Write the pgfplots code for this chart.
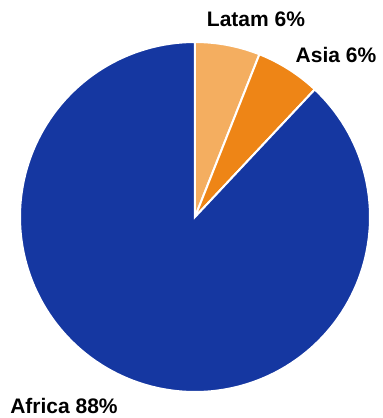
\documentclass[border=0pt]{standalone}
\usepackage{pgfplots}
\pgfplotsset{compat=1.18}
\usepgfplotslibrary{polar}
\usepackage{fontspec}
\setmainfont{Liberation Sans}
\definecolor{latam}{RGB}{244,174,96}
\definecolor{asia}{RGB}{238,133,22}
\definecolor{africa}{RGB}{21,55,161}
% shares in percent
\def\shareLatam{6}
\def\shareAsia{6}
\def\shareAfrica{88}
\pgfmathsetmacro{\aA}{90}
\pgfmathsetmacro{\aB}{\aA-3.6*\shareLatam}
\pgfmathsetmacro{\aC}{\aB-3.6*\shareAsia}
\pgfmathsetmacro{\aD}{\aC-3.6*\shareAfrica}
\begin{document}
\begin{tikzpicture}
\path[use as bounding box] (0,0) rectangle (383pt,418pt);
\begin{polaraxis}[
  at={(195pt,201pt)}, anchor=origin,
  scale only axis, width=350pt, height=350pt,
  xmin=0, xmax=360, ymin=0, ymax=175,
  hide axis, clip=false,
]
\addplot[draw=white, line width=2pt, fill=latam, domain=\aB:\aA, samples=20] {175} -- (axis cs:0,0) -- cycle;
\addplot[draw=white, line width=2pt, fill=asia, domain=\aC:\aB, samples=20] {175} -- (axis cs:0,0) -- cycle;
\addplot[draw=white, line width=2pt, fill=africa, domain=\aD:\aC, samples=160] {175} -- (axis cs:0,0) -- cycle;
\end{polaraxis}
\node[anchor=base, inner sep=0pt, font=\fontsize{21}{24}\selectfont\bfseries] at (256pt,391pt) {Latam \shareLatam\%};
\node[anchor=base, inner sep=0pt, font=\fontsize{21}{24}\selectfont\bfseries] at (336pt,355pt) {Asia \shareAsia\%};
\node[anchor=base, inner sep=0pt, font=\fontsize{21}{24}\selectfont\bfseries] at (64pt,5pt) {Africa \shareAfrica\%};
\end{tikzpicture}
\end{document}
